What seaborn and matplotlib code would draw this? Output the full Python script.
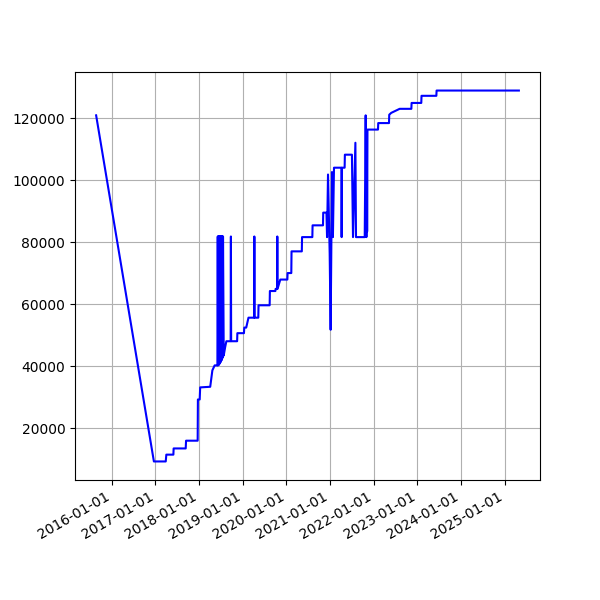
import pandas as pd
import matplotlib
matplotlib.use('Agg')
import matplotlib.pyplot as plt
import matplotlib.dates as mdates
import seaborn as sns

dates = [
    '2015-08-24', '2016-12-19', '2017-03-28', '2017-04-02', '2017-05-31', '2017-06-02',
    '2017-09-11', '2017-09-14', '2017-12-20', '2017-12-22', '2018-01-06', '2018-01-10',
    '2018-04-04', '2018-04-22', '2018-05-11', '2018-06-04',
    # dichte Spitzen Mitte 2018
    '2018-06-06', '2018-06-08', '2018-06-10', '2018-06-12', '2018-06-14', '2018-06-16',
    '2018-06-18', '2018-06-20', '2018-06-22', '2018-06-24', '2018-06-26', '2018-06-28',
    '2018-06-30', '2018-07-02', '2018-07-04', '2018-07-06', '2018-07-08', '2018-07-10',
    '2018-07-12', '2018-07-14', '2018-07-16', '2018-07-18', '2018-07-20', '2018-07-26',
    '2018-08-07', '2018-08-17', '2018-09-22', '2018-09-24', '2018-09-26',
    '2018-11-15', '2018-11-17', '2019-01-11', '2019-01-14', '2019-01-30', '2019-02-18',
    '2019-04-06', '2019-04-08', '2019-04-10', '2019-05-11', '2019-05-13',
    '2019-08-14', '2019-08-16', '2019-10-01', '2019-10-03', '2019-10-15', '2019-10-17',
    '2019-10-19', '2019-11-11', '2020-01-09', '2020-01-11', '2020-02-11', '2020-02-13',
    '2020-05-09', '2020-05-11', '2020-08-05', '2020-08-07', '2020-11-02', '2020-11-04',
    '2020-12-01', '2020-12-06', '2020-12-14', '2020-12-28', '2021-01-05', '2021-01-16',
    '2021-01-24', '2021-02-02', '2021-04-05', '2021-04-07', '2021-04-10', '2021-05-02',
    '2021-05-04', '2021-07-02', '2021-07-11', '2021-07-31', '2021-08-05', '2021-10-17',
    '2021-10-25', '2021-10-31', '2021-11-04', '2021-11-06', '2021-11-09', '2022-02-05',
    '2022-02-07', '2022-05-08', '2022-05-10', '2022-05-27', '2022-08-05', '2022-11-11',
    '2022-11-13', '2023-02-02', '2023-02-04', '2023-06-08', '2023-06-10', '2025-04-28',
]
values = [
    121000, 9300, 9300, 11500, 11500, 13500,
    13500, 16000, 16000, 29300, 29300, 33200,
    33400, 38700, 40300, 40300,
    81900, 40300, 81900, 40400, 81900, 40600, 81900, 40800, 81900, 41000, 81900, 41300,
    81900, 41600, 81900, 41900, 81900, 42200, 81900, 42600, 81900, 43000, 81900, 43500,
    46200, 48100, 48100, 81900, 48100,
    48100, 50700, 50700, 52500, 52500, 55700,
    55700, 81900, 55700, 55700, 59700,
    59700, 64300, 64300, 65000, 65000, 81900,
    65000, 68000, 68000, 70100, 70100, 77100,
    77100, 81700, 81700, 85500, 85500, 89600,
    89600, 81700, 101900, 76400, 51800, 102700,
    81700, 104100, 104100, 81700, 104100, 104100,
    108300, 108300, 81700, 112150, 81700, 81700,
    121000, 81700, 116100, 83500, 116400, 116400,
    118500, 118500, 121200, 121800, 123100, 123100,
    125000, 125000, 127300, 127300, 129000, 129000,
]

df = pd.DataFrame({'date': pd.to_datetime(dates), 'value': values})

fig, ax = plt.subplots(figsize=(6, 6), dpi=100)
sns.lineplot(data=df, x='date', y='value', color='b', estimator=None, sort=False, ax=ax)
ax.set_xlabel('')
ax.set_ylabel('')
ax.grid(True)
ax.xaxis.set_major_locator(mdates.YearLocator())
ax.xaxis.set_major_formatter(mdates.DateFormatter('%Y-%m-%d'))
fig.autofmt_xdate()
fig.savefig('out.png')
